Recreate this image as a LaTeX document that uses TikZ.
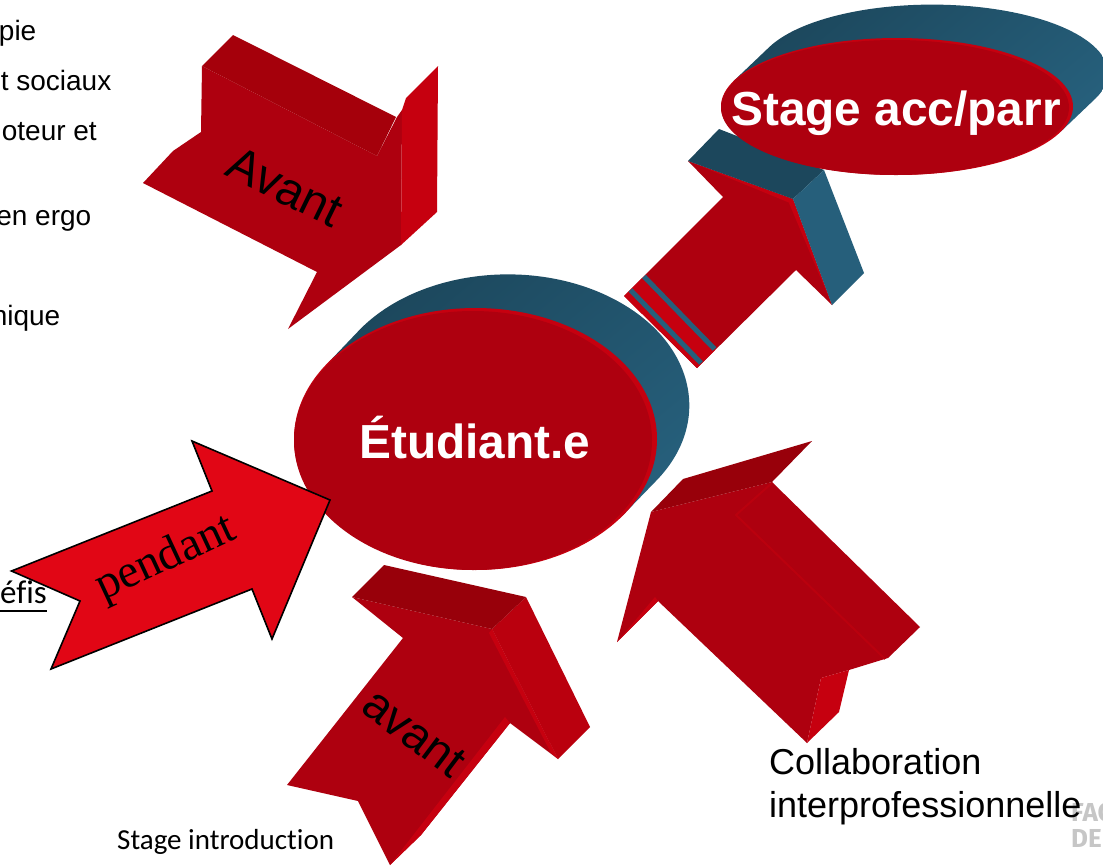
\documentclass[tikz,border=0pt]{standalone}
\usepackage{fontspec}
\usetikzlibrary{shapes.geometric}
\setmainfont{Liberation Sans}
\newfontfamily\serifface{Liberation Serif}
\newfontfamily\califace[Ligatures=NoCommon]{Carlito}
\newfontfamily\logoface{Fira Sans}
\definecolor{redmain}{HTML}{AE000F}
\definecolor{redbright}{HTML}{C6000F}
\definecolor{redmid}{HTML}{BA000E}
\definecolor{reddark}{HTML}{A5000B}
\definecolor{reddarker}{HTML}{98000A}
\definecolor{redvivid}{HTML}{E10615}
\definecolor{bluedark}{HTML}{1C475C}
\definecolor{bluelight}{HTML}{265F7B}
\definecolor{logogray}{HTML}{C6C6C6}
\newcommand{\px}[1]{\fontsize{#1}{#1}\selectfont}
\tikzset{
  mainface/.style={fill=redmain},
  sideface/.style={fill=redbright},
  topface/.style={fill=reddark},
  backshade/.style={shade, top color=bluedark, bottom color=bluelight, shading angle=40},
  rimoval/.style={ellipse, inner sep=0pt, fill=redbright},
  coreoval/.style={ellipse, inner sep=0pt, fill=redmain},
  sidetext/.style={inner sep=0pt, anchor=base east, font=\px{28}, text=black},
  whitelabel/.style={inner sep=0pt, anchor=base, font=\bfseries\px{47.8}, text=white},
  arrowlabel/.style={inner sep=0pt, text=black},
}
\begin{document}
\begin{tikzpicture}[x=1pt,y=-1pt]
\useasboundingbox (0,0) rectangle (1103,865);
\fill[white] (0,0) rectangle (1103,865);

% left clipped texts
\node[sidetext] (t1) at (36.5,40) {pie};
\node[sidetext] (t2) at (111.5,90) {t sociaux};
\node[sidetext] (t3) at (97,140.5) {moteur et};
\node[sidetext] (t4) at (91.5,225) {en ergo};
\node[sidetext] (t5) at (60.5,325) {nique};
\node[inner sep=0pt, anchor=base east, font=\califace\px{33}] (t6) at (47,603) {éfis};
\coordinate (u1) at (0,610.5);
\coordinate (u2) at (47,610.5);
\draw[line width=2pt] (u1) -- (u2);

% top-left arrow
\fill[mainface] (202,66) -- (377,156) -- (397,117) -- (402,110) -- (401,245) -- (288,329) -- (317,272) -- (143,183) -- (173,151) -- (201,132) -- cycle;
\fill[sideface] (406,98) -- (438,66) -- (437,212) -- (401,245) -- (402,110) -- cycle;
\fill[topface] (233,35) -- (396,117) -- (377,156) -- (202,66) -- cycle;
\node[arrowlabel, rotate=-26, font=\px{48}] (avant1) at (285,187) {Avant};

% stage arrow
\fill[mainface] (688,161) -- (793,199) -- (832,305) -- (796,270) -- (697,368) -- (624,296) -- (723,197) -- cycle;
\fill[redbright] (688,161) -- (793,199) -- (790,203) -- cycle;
\fill[redbright] (793,199) -- (832,305) -- (789,203) -- cycle;
\fill[redbright] (624,296) -- (642,278) -- (715,350) -- (697,368) -- cycle;
\fill[bluedark] (719,129) -- (824,170) -- (793,199) -- (688,161) -- cycle;
\fill[bluelight] (793,199) -- (824,170) -- (864,273) -- (832,305) -- cycle;
\coordinate (s1a) at (644,276.5);
\coordinate (s1b) at (714.5,349);
\coordinate (s2a) at (630.5,290);
\coordinate (s2b) at (701,363);
\draw[bluelight, line width=5pt] (s1a) -- (s1b);
\draw[bluelight, line width=5pt] (s2a) -- (s2b);

% stage oval
\path[backshade] (1061,131.4) -- (1096,98) arc[start angle=-21.3, end angle=158.7, x radius=176pt, y radius=68.5pt] -- (733,81.6) -- cycle;
\node[rimoval, minimum width=352pt, minimum height=137pt] (stagerim) at (897,106.5) {};
\node[coreoval, minimum width=348pt, minimum height=135pt] (stagecore) at (895,107.5) {};
\node[whitelabel] (stage) at (896,125) {Stage acc/parr};

% student oval
\path[backshade] (622.5,515.6) -- (655,482) arc[start angle=-35.8, end angle=144.2, x radius=181.5pt, y radius=131pt] -- (328.5,362.4) -- cycle;
\node[rimoval, minimum width=363pt, minimum height=262pt] (studrim) at (475.5,439) {};
\node[coreoval, minimum width=358pt, minimum height=259pt] (studcore) at (473,440.5) {};
\node[whitelabel] (stud) at (475,458) {Étudiant.e};

% pendant arrow
\draw[fill=redvivid, draw=black, line width=1.6pt, line join=miter] (192,441) -- (330,500) -- (272,639) -- (252,589) -- (51,669) -- (80,601) -- (11.5,571) -- (212,491) -- cycle;
\node[arrowlabel, rotate=25, font=\serifface\px{47}] (pendant) at (166,559) {pendant};

% bottom arrow
\fill[mainface] (352,597) -- (492,629) -- (558,759) -- (510,723) -- (421,835) -- (390,865) -- (358,801) -- (287,785) -- (403,638) -- cycle;
\fill[redbright] (505,717) -- (510,723) -- (421,835) -- (390,865) -- cycle;
\fill[redmid] (492,629) -- (526,597) -- (590,727) -- (558,759) -- cycle;
\fill[redbright] (492,629) -- (558,759) -- (551,753) -- (489,633) -- cycle;
\fill[fill=reddarker] (384,565) -- (526,597) -- (492,629) -- (352,597) -- cycle;
\node[arrowlabel, rotate=-37, font=\px{47}] (avant2) at (414,733) {avant};

% collaboration arrow
\fill[mainface] (651,512) -- (772,482) -- (920,627) -- (888,658) -- (849,670) -- (821,678) -- (807,743) -- (658,601) -- (617,642) -- cycle;
\fill[redbright] (617,642) -- (658,601) -- (655,597) -- cycle;
\fill[sideface] (821,678) -- (849,670) -- (839,712) -- (807,743) -- cycle;
\fill[fill=reddarker] (812,441) -- (772,482) -- (651,512) -- (683,479) -- cycle;
\coordinate (r1) at (772,483);
\coordinate (r2) at (736,515);
\coordinate (r3) at (885,659);
\draw[redmid, line width=2pt] (r1) -- (r2) -- (r3);

% logo fragments and caption
\node[inner sep=0pt, anchor=base west, font=\logoface\bfseries\px{26}, text=logogray] (logo1) at (1071,821) {FAC};
\node[inner sep=0pt, anchor=base west, font=\logoface\bfseries\px{26}, text=logogray] (logo2) at (1071,847) {DE};
\node[inner sep=0pt, anchor=base west, font=\px{36}] (collab1) at (769,774) {Collaboration};
\node[inner sep=0pt, anchor=base west, font=\px{36}] (collab2) at (769,817) {interprofessionnelle};
\node[inner sep=0pt, anchor=base west, font=\califace\px{29}] (intro) at (117,849) {Stage introduction};
\end{tikzpicture}
\end{document}
